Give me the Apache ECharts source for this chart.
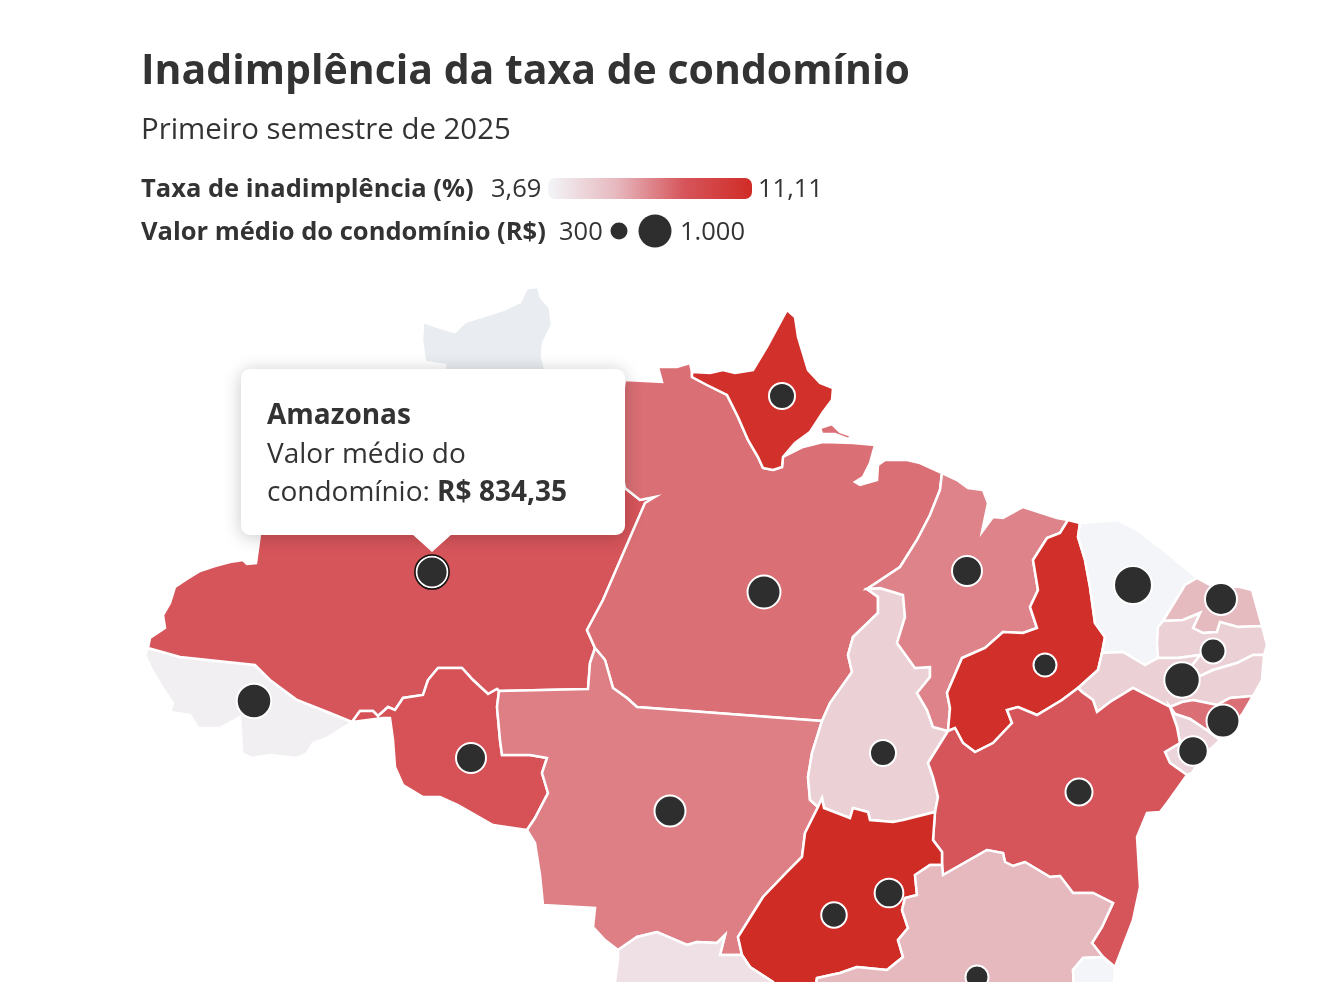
<!DOCTYPE html>
<html>
<head>
  <meta charset="utf-8">
  <title>Inadimplência da taxa de condomínio</title>
  <script src="https://cdn.jsdelivr.net/npm/echarts@6/dist/echarts.min.js"></script>
  <style>
    html, body { margin: 0; padding: 0; background: #fff; overflow: hidden; }
  </style>
</head>
<body>
<div id="main" style="width:1326px;height:982px;"></div>
<script type="text/javascript">
  // valores
  var stateNames = ['Acre', 'Amazonas', 'Rondônia', 'Mato Grosso', 'Pará', 'Amapá', 'Maranhão', 'Tocantins', 'Piauí', 'Ceará',
    'Goiás', 'Bahia', 'Minas Gerais', 'Rio Grande do Norte', 'Paraíba', 'Pernambuco', 'Alagoas', 'Sergipe', 'Mato Grosso do Sul', 'Espírito Santo'];
  var stateRates = [3.94, 8.64, 8.8, 7.6, 8.0, 10.87, 7.5, 5.22, 10.9, 3.69,
    11.11, 8.64, 6.16, 6.1, 5.2, 5.2, 7.97, 5.0, 4.55, 3.7];

  var condoNames = ['Acre', 'Amazonas', 'Rondônia', 'Amapá', 'Pará', 'Maranhão', 'Piauí', 'Ceará', 'Rio Grande do Norte', 'Paraíba',
    'Pernambuco', 'Alagoas', 'Sergipe', 'Bahia', 'Tocantins', 'Mato Grosso', 'Goiás', 'Distrito Federal', 'Minas Gerais'];
  var condoValues = [980, 834.35, 781, 606, 912, 780, 475, 1130, 870, 560,
    1020, 910, 760, 650, 606, 825, 585, 725, 475];
  // posição de cada estado, em unidades do mapa
  var condoLon = [254, 432, 471, 782, 764, 967, 1045, 1133, 1221, 1213, 1182, 1223, 1193, 1079, 883, 670, 834, 889, 977];
  var condoLat = [701, 572, 758, 396, 592, 571, 665, 585, 599, 651, 680, 721, 751, 792, 753, 811, 915, 893, 977];

  var rateRange = [3.69, 11.11];
  var rateLabels = ['3,69', '11,11'];
  var sizeRange = [300, 1000];
  var sizeLabels = ['300', '1.000'];
  var rateColors = ['#f3f5f8', '#e6b9bf', '#d6555b', '#d02c26'];
  var ink = '#333333';
  var fontName = '"Open Sans", "Noto Sans", sans-serif';

  // divisas compartilhadas entre estados
  var acAm = [[148,648],[180,657],[255,665],[270,680],[297,700],[330,713],[352,722]];
  var acOuter = [[327,738],[313,743],[307,753],[297,758],[270,755],[252,758],[242,753],[240,717],[220,728],[198,728],[190,715],[170,712],[173,703],[162,687],[152,670],[145,655]];
  var amRo = [[352,722],[360,711],[373,711],[378,716],[388,707],[395,710],[403,698],[423,695],[428,680],[438,668],[462,668],[473,680],[488,694],[497,689],[499,691]];
  var amMt = [[499,691],[588,689],[590,663],[595,648]];
  var amPa = [[595,648],[587,630],[603,600],[645,503],[655,497],[640,500],[625,488],[615,440]];
  var amRr = [[615,440],[560,420],[445,400]];
  var amNorth = [[445,400],[300,420],[262,470],[260,534],[256,563],[247,564],[243,560],[230,562],[215,566],[200,571],[187,579],[175,587],[170,603],[163,615],[165,628],[150,638],[148,648]];
  var rrOuter = [[445,369],[445,365],[425,362],[422,340],[423,323],[410,317],[438,327],[455,332],[465,322],[487,315],[503,310],[520,302],[527,288],[538,287],[541,298],[550,308],[552,325],[543,343],[542,357],[545,368],[615,440]];
  var paNorth = [[615,440],[625,380],[662,382],[658,367],[677,367],[690,363]];
  var paAp = [[692,372],[692,377],[707,385],[727,395],[738,417],[748,440],[758,457],[763,468],[773,470],[782,467],[783,457]];
  var apOuter = [[795,443],[810,432],[823,412],[832,400],[833,388],[820,383],[808,370],[798,337],[795,317],[787,310],[767,347],[753,370],[735,373],[723,370],[710,373],[692,372]];
  var paCoast = [[803,447],[823,442],[853,443],[875,445],[870,463],[863,477],[855,482],[860,485],[877,480],[878,465],[885,460],[907,460],[920,463],[942,473]];
  var paIsland = [[820,428],[832,424],[840,432],[852,436],[848,439],[835,434],[822,434],[820,428]];
  var paMa = [[942,473],[940,490],[930,515],[917,540],[900,567],[867,589]];
  var paTo = [[867,589],[878,597],[878,613],[853,637],[848,655],[852,672],[830,703],[822,721]];
  var paMt = [[822,721],[637,707],[627,698],[613,688],[605,660],[595,648]];
  var roMt = [[499,691],[497,707],[500,740],[502,755],[530,755],[547,758],[542,773],[548,793],[535,818],[527,830]];
  var roOuter = [[493,825],[458,805],[440,797],[423,797],[403,785],[395,767],[393,740],[390,718],[383,718],[352,722]];
  var mtTo = [[822,721],[812,753],[808,777],[810,800],[818,807]];
  var mtGo = [[818,807],[805,833],[802,857],[787,872],[763,897],[753,913],[738,937],[742,955]];
  var mtMs = [[742,955],[720,955],[725,935],[717,943],[697,942],[687,945],[657,932],[637,937],[618,950]];
  var mtOuter = [[605,940],[593,927],[595,908],[543,905],[540,875],[535,843],[527,830]];
  var toGo = [[818,807],[822,798],[824,808],[850,818],[853,808],[868,812],[870,820],[893,822],[903,820],[935,812]];
  var toBa = [[935,812],[938,797],[933,777],[928,763],[948,731]];
  var maTo = [[867,589],[880,588],[903,595],[905,617],[897,643],[915,668],[930,667],[930,677],[917,693],[927,710],[933,727],[948,731]];
  var maPi = [[948,731],[950,708],[947,693],[962,658],[985,648],[1003,632],[1023,633],[1037,628],[1030,607],[1038,590],[1033,560],[1047,538],[1060,533],[1068,520]];
  var maCoast = [[1057,518],[1023,507],[1003,518],[993,517],[982,532],[988,503],[983,490],[968,488],[957,480],[942,473]];
  var piBa = [[948,731],[955,728],[963,743],[975,752],[993,743],[1012,723],[1007,710],[1018,707],[1037,715],[1062,700],[1078,688]];
  var piPe = [[1078,688],[1098,670],[1102,653]];
  var piCe = [[1102,653],[1105,637],[1095,623],[1090,587],[1085,560],[1078,537],[1080,523]];
  var cePe = [[1102,653],[1123,652],[1145,665],[1158,658]];
  var cePb = [[1158,658],[1157,643],[1158,627],[1163,621]];
  var ceRn = [[1163,621],[1185,585],[1197,578]];
  var ceCoast = [[1167,553],[1137,530],[1117,520],[1082,523],[1080,523]];
  var rnPb = [[1163,621],[1183,620],[1200,613],[1193,628],[1203,633],[1217,632],[1220,622],[1238,627],[1262,626]];
  var rnCoast = [[1252,590],[1240,587],[1210,585],[1197,578]];
  var pbPe = [[1158,658],[1178,658],[1200,655],[1190,668],[1198,677],[1213,670],[1237,663],[1253,655],[1264,655]];
  var peCoast = [[1262,680],[1253,696]];
  var peAl = [[1253,696],[1230,698],[1217,705],[1193,700],[1182,702],[1170,707]];
  var peBa = [[1170,707],[1133,688],[1110,702],[1097,712],[1093,700],[1082,692],[1078,688]];
  var alCoast = [[1243,713],[1230,730],[1220,740]];
  var alSe = [[1220,740],[1208,731],[1190,719],[1175,714],[1170,707]];
  var seCoast = [[1215,745],[1203,755],[1192,773],[1187,775]];
  var seBa = [[1187,775],[1170,763],[1165,752],[1180,743],[1177,727],[1170,707]];
  var baGo = [[935,812],[933,840],[942,852],[942,865]];
  var baMg = [[942,865],[943,875],[987,850],[1003,853],[1005,862],[1013,866],[1025,862],[1050,877],[1060,876],[1073,893],[1093,893],[1113,903],[1102,927],[1092,943],[1103,957],[1115,967]];
  var baCoast = [[1133,920],[1140,887],[1137,837],[1147,813],[1160,812],[1167,803],[1187,775]];
  var goMg = [[942,865],[930,865],[915,875],[917,895],[905,898],[902,910],[908,928],[898,940],[903,957],[887,970],[857,967],[840,973],[817,978],[812,1010]];
  var goMs = [[812,1010],[775,1010],[773,982],[750,967],[742,955]];
  var msOuter = [[612,1010],[615,982],[618,960]];
  var mgEs = [[1075,1010],[1073,970],[1083,958],[1103,957]];
  var esOuter = [[1115,967],[1112,1010],[1075,1010]];

  function rev(line) { return line.slice().reverse(); }
  function ring() {
    var pts = [].concat.apply([], arguments);
    pts.push(pts[0]);
    return pts;
  }
  function feature(name, rings) {
    return { type: 'Feature', properties: { name: name }, geometry: { type: 'Polygon', coordinates: rings } };
  }
  function island(name, rings) {
    return { type: 'Feature', properties: { name: name }, geometry: { type: 'MultiPolygon', coordinates: rings.map(function (r) { return [r]; }) } };
  }

  var brasil = { type: 'FeatureCollection', features: [
    feature('Roraima', [ring(rrOuter, amRr)]),
    feature('Acre', [ring(acAm, acOuter)]),
    feature('Amazonas', [ring(acAm, amRo, amMt, amPa, amRr, amNorth)]),
    feature('Rondônia', [ring(amRo, roMt, roOuter)]),
    island('Pará', [ring(paNorth, paAp, paCoast, paMa, paTo, paMt, amPa), paIsland]),
    feature('Amapá', [ring(paAp, apOuter)]),
    feature('Mato Grosso', [ring(amMt, rev(paMt), mtTo, mtGo, mtMs, mtOuter, rev(roMt))]),
    feature('Tocantins', [ring(paTo, mtTo, toGo, toBa, rev(maTo))]),
    feature('Maranhão', [ring(paMa, maTo, maPi, maCoast)]),
    feature('Piauí', [ring(rev(maPi), piBa, piPe, piCe)]),
    feature('Ceará', [ring(rev(piCe), cePe, cePb, ceRn, ceCoast)]),
    feature('Rio Grande do Norte', [ring(rev(ceRn), rnPb, rnCoast)]),
    feature('Paraíba', [ring(rev(rnPb), rev(cePb), pbPe, [[1267,645]])]),
    feature('Pernambuco', [ring(cePe, pbPe, peCoast, peAl, peBa, piPe)]),
    feature('Alagoas', [ring(rev(peAl), alCoast, alSe)]),
    feature('Sergipe', [ring(rev(alSe), seCoast, seBa)]),
    feature('Bahia', [ring(peBa, rev(piBa), rev(toBa), baGo, baMg, baCoast, seBa)]),
    feature('Goiás', [ring(toGo, baGo, goMg, goMs, rev(mtGo))]),
    feature('Mato Grosso do Sul', [ring(rev(mtMs), rev(goMs), msOuter)]),
    feature('Minas Gerais', [ring(goMg, mgEs, rev(baMg.slice(0, -1)))]),
    feature('Espírito Santo', [ring(mgEs, esOuter)])
  ] };
  echarts.registerMap('brasil', brasil);

  function dotSize(v) {
    return 17 + (v - sizeRange[0]) / (sizeRange[1] - sizeRange[0]) * 16;
  }
  function brl(v) {
    return 'R$ ' + v.toFixed(2).replace('.', ',');
  }

  var stateData = stateNames.map(function (n, i) { return { name: n, value: stateRates[i] }; });
  var condoData = condoNames.map(function (n, i) { return { name: n, value: [condoLon[i], condoLat[i], condoValues[i]] }; });
  var hoverName = 'Amazonas';
  var hoverIndex = condoNames.indexOf(hoverName);

  function label(x, y, text, bold, size) {
    return {
      type: 'text', left: x, top: y - size * 0.43, silent: true,
      style: { text: text, fill: ink, fontFamily: fontName, fontSize: size, fontWeight: bold ? 700 : 400 }
    };
  }

  var chartDom = document.getElementById('main');
  var myChart = echarts.init(chartDom);
  var option = {
    animation: false,
    backgroundColor: '#fff',
    tooltip: {
      trigger: 'item',
      alwaysShowContent: true,
      transitionDuration: 0,
      backgroundColor: '#fff',
      borderWidth: 0,
      padding: 0,
      position: function () { return [241, 369]; },
      extraCssText: 'width:384px;height:166px;box-sizing:border-box;border-radius:9px;box-shadow:0 2px 18px rgba(0,0,0,.22);',
      formatter: function (p) {
        return '<div style="position:absolute;left:171px;top:165px;width:0;height:0;border-left:20px solid transparent;border-right:20px solid transparent;border-top:18px solid #fff;"></div>' +
          '<div style="padding:25px 0 0 26px;font:400 28px/38.5px ' + fontName.replace(/"/g, "'") + ';color:' + ink + ';">' +
          '<b style="font-weight:700">' + p.name + '</b><br>Valor médio do<br>condomínio: <b style="font-weight:700">' + brl(p.value[2]) + '</b></div>';
      }
    },
    visualMap: {
      show: false, type: 'continuous', seriesIndex: 0,
      min: rateRange[0], max: rateRange[1],
      inRange: { color: rateColors }
    },
    geo: {
      map: 'brasil',
      roam: false,
      silent: true,
      projection: { project: function (p) { return p; }, unproject: function (p) { return p; } },
      boundingCoords: [[0, 0], [1326, 982]],
      layoutCenter: ['50%', '50%'],
      layoutSize: 1326,
      label: { show: false },
      itemStyle: { areaColor: '#e9edf1', borderColor: '#fff', borderWidth: 2.5 }
    },
    series: [
      { type: 'map', geoIndex: 0, data: stateData, silent: true },
      {
        type: 'scatter', coordinateSystem: 'geo', z: 5, data: condoData,
        symbolSize: function (v) { return dotSize(v[2]) + 2; },
        itemStyle: { color: '#2e2e2e', borderColor: '#fff', borderWidth: 2, opacity: 1 },
        emphasis: { disabled: true }
      },
      {
        type: 'scatter', coordinateSystem: 'geo', z: 6, silent: true, tooltip: { show: false },
        data: [condoData[hoverIndex]],
        symbolSize: function (v) { return dotSize(v[2]) + 5; },
        itemStyle: { color: 'rgba(0,0,0,0)', borderColor: '#111', borderWidth: 1.5, opacity: 1 },
        emphasis: { disabled: true }
      }
    ],
    graphic: [
      label(141, 69, 'Inadimplência da taxa de condomínio', true, 41),
      label(141, 129, 'Primeiro semestre de 2025', false, 29.4),
      label(141, 188, 'Taxa de inadimplência (%)', true, 25.5),
      label(491, 188, rateLabels[0], false, 25.5),
      {
        type: 'rect', silent: true, shape: { x: 548, y: 178, width: 204, height: 21, r: 7 },
        style: { fill: new echarts.graphic.LinearGradient(0, 0, 1, 0, rateColors.map(function (c, i) { return { offset: i / (rateColors.length - 1), color: c }; })) }
      },
      label(758, 188, rateLabels[1], false, 25.5),
      label(141, 231, 'Valor médio do condomínio (R$)', true, 25.5),
      label(559, 231, sizeLabels[0], false, 25.5),
      { type: 'circle', silent: true, shape: { cx: 619, cy: 231, r: dotSize(sizeRange[0]) / 2 }, style: { fill: '#2e2e2e' } },
      { type: 'circle', silent: true, shape: { cx: 655, cy: 231, r: dotSize(sizeRange[1]) / 2 }, style: { fill: '#2e2e2e' } },
      label(680, 231, sizeLabels[1], false, 25.5)
    ]
  };
  myChart.setOption(option);
  myChart.dispatchAction({ type: 'showTip', seriesIndex: 1, dataIndex: hoverIndex });
</script>
</body>
</html>
